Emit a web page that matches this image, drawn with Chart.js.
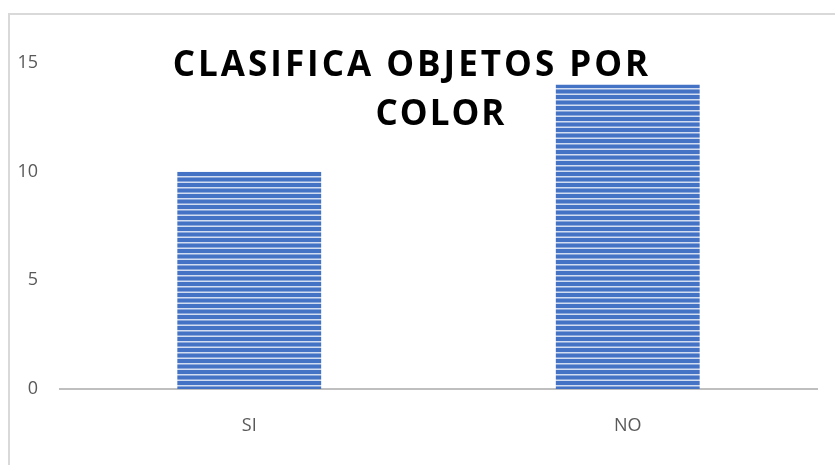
<!DOCTYPE html>
<html lang="es">
  <head>
    <meta charset="UTF-8" />
    <title>Clasifica objetos por color</title>
    <style>
      html, body { margin: 0; padding: 0; background: #fff; }
      .wrap { position: relative; width: 835px; height: 465px; }
    </style>
  </head>
  <body>
    <div class="wrap">
      <canvas id="colorChart" width="835" height="465"></canvas>
    </div>

    <script src="https://cdn.jsdelivr.net/npm/chart.js"></script>
    <script>
      // data
      const categories = ["SI", "NO"];
      const counts = [10, 14];
      const titleLines = ["CLASIFICA OBJETOS POR", "COLOR"];

      // striped fill for the bars
      function stripePattern() {
        const c = document.createElement("canvas");
        c.width = 4;
        c.height = 11;
        const g = c.getContext("2d");
        g.fillStyle = "#4472C4";
        g.fillRect(0, 0, 4, 11);
        g.fillStyle = "#D3DDF1";
        g.fillRect(0, 0, 4, 1.5);
        g.fillRect(0, 5.5, 4, 1.5);
        return g.createPattern(c, "repeat");
      }

      // light frame + title drawn over the plot
      const frameAndTitle = {
        id: "frameAndTitle",
        beforeDraw(chart) {
          const ctx = chart.ctx;
          ctx.save();
          ctx.strokeStyle = "#D9D9D9";
          ctx.lineWidth = 2;
          ctx.beginPath();
          ctx.moveTo(9, 465);
          ctx.lineTo(9, 14);
          ctx.lineTo(835, 14);
          ctx.stroke();
          ctx.restore();
        },
        afterDraw(chart) {
          const ctx = chart.ctx;
          ctx.save();
          ctx.fillStyle = "#000";
          ctx.font = "bold 35px 'Open Sans'";
          ctx.letterSpacing = "3px";
          ctx.textAlign = "center";
          ctx.textBaseline = "alphabetic";
          ctx.fillText(titleLines[0], 412, 76);
          ctx.letterSpacing = "2px";
          ctx.fillText(titleLines[1], 441, 125);
          ctx.restore();
        },
      };

      const ctx = document.getElementById("colorChart").getContext("2d");
      const chart = new Chart(ctx, {
        type: "bar",
        data: {
          labels: categories,
          datasets: [
            {
              data: counts,
              backgroundColor: stripePattern(),
              borderWidth: 0,
              categoryPercentage: 1,
              barPercentage: 0.38,
            },
          ],
        },
        options: {
          responsive: false,
          animation: false,
          layout: { padding: { left: 0, top: 63, right: 18, bottom: 0 } },
          plugins: {
            legend: { display: false },
            title: { display: false },
            tooltip: { enabled: false },
          },
          scales: {
            x: {
              grid: { display: false },
              border: { display: true, color: "#BFBFBF", width: 2 },
              ticks: {
                color: "#595959",
                font: { family: "'Open Sans'", size: 18 },
                padding: 18,
              },
              afterFit(scale) {
                scale.height = 465 - 389;
              },
            },
            y: {
              min: 0,
              max: 15,
              grid: { display: false },
              border: { display: false },
              ticks: {
                stepSize: 5,
                color: "#595959",
                font: { family: "'Open Sans'", size: 18 },
                padding: 14,
              },
              afterFit(scale) {
                scale.width = 60;
              },
            },
          },
        },
        plugins: [frameAndTitle],
      });
    </script>
  </body>
</html>
